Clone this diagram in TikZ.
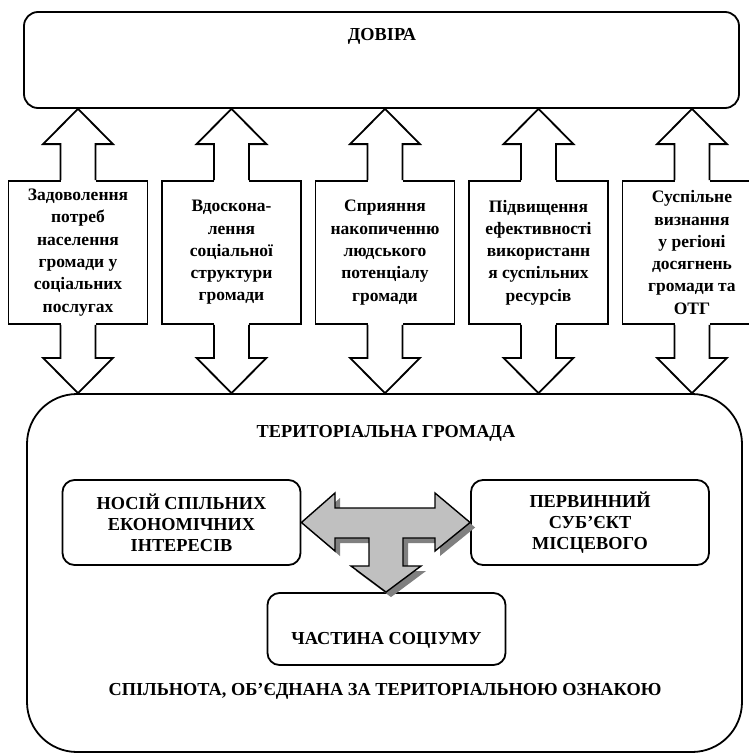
\documentclass[tikz,border=0pt]{standalone}
\usepackage{fontspec}
\setmainfont{Liberation Serif}[BoldFont={Liberation Serif Bold}]
\usetikzlibrary{calc,shadows}
\newcommand\mkvarrow[3]{%
  \node[vbx] (#1) at (#2,252.5) {#3};
  \fill[white] ($(#1.north)+(-17.5,-36)$) rectangle ($(#1.north)+(17.5,1.5)$);
  \draw[outl] ($(#1.north)+(-17.5,0)$) -- ++(0,-36) -- ++(-17.5,0) -- (#1.north |- top.south)
     -- ($(#1.north)+(35,-36)$) -- ++(-17.5,0) -- ($(#1.north)+(17.5,0)$);
  \fill[white] ($(#1.south)+(-17.5,-1.5)$) rectangle ($(#1.south)+(17.5,33)$);
  \draw[outl] ($(#1.south)+(-17.5,0)$) -- ++(0,33) -- ++(-17.5,0) -- (#1.south |- bot.north)
     -- ($(#1.south)+(35,33)$) -- ++(-17.5,0) -- ($(#1.south)+(17.5,0)$);
}
\begin{document}
\begin{tikzpicture}[x=1pt,y=-1pt,
  line width=1.8pt,
  txt/.style={font=\bfseries\fontsize{17.5}{22.3}\selectfont, align=center},
  ctxt/.style={font=\bfseries\fontsize{18.3}{21}\selectfont, align=center},
  rbox/.style={draw, rounded corners=12pt, fill=white},
  vbx/.style={draw, fill=white, minimum width=139pt, minimum height=143pt, inner sep=0pt, txt},
  ibox/.style={rbox, ctxt, minimum width=238pt, minimum height=85pt, inner sep=0pt},
  outl/.style={line join=miter},
  tarrow/.style={draw, fill=arrowgray, line width=1.4pt, line join=miter,
     drop shadow={shadow xshift=5pt, shadow yshift=-5pt, fill=shadowgray, opacity=1}}
]
\definecolor{arrowgray}{HTML}{C0C0C0}
\definecolor{shadowgray}{HTML}{808080}
\useasboundingbox (0,0) rectangle (749,753);
\clip (0,0) rectangle (749,753);

% big boxes
\node[rbox, rounded corners=14pt, minimum width=715pt, minimum height=96pt] (top) at (381.5,60) {};
\node[ctxt] (toptxt) at (382,36) {ДОВІРА};
\node[rbox, rounded corners=50pt, minimum width=715pt, minimum height=358pt] (bot) at (384.5,573) {};
\node[ctxt] (bottitle) at (386,433) {ТЕРИТОРІАЛЬНА ГРОМАДА};
\node[ctxt] (botfoot) at (385,691) {СПІЛЬНОТА, ОБ’ЄДНАНА ЗА ТЕРИТОРІАЛЬНОЮ ОЗНАКОЮ};

% vertical double arrows with text boxes
\mkvarrow{a1}{78}{Задоволення\\потреб\\населення\\громади у\\соціальних\\послугах}
\mkvarrow{a2}{231.5}{Вдоскона-\\лення\\соціальної\\структури\\громади}
\mkvarrow{a3}{385}{Сприяння\\накопиченню\\людського\\потенціалу\\громади}
\mkvarrow{a4}{538.5}{Підвищення\\ефективності\\використанн\\я суспільних\\ресурсів}
\mkvarrow{a5}{692}{Суспільне\\визнання\\у регіоні\\досягнень\\громади та\\ОТГ}

% inner boxes
\node[ibox] (l) at (181.5,522.5) {НОСІЙ СПІЛЬНИХ\\ЕКОНОМІЧНИХ\\ІНТЕРЕСІВ};
\node[ibox] (r) at (590,522.5) {ПЕРВИННИЙ\\СУБ’ЄКТ\\МІСЦЕВОГО};
\node[ibox, minimum height=72pt, text height=30pt, text depth=0pt] (b) at (386.5,629) {ЧАСТИНА СОЦІУМУ};

% T-shaped grey arrow
\path[tarrow] (l.east) -- (335,493) -- (335,508) -- (435,508) -- (435,493) -- (r.west)
  -- (435,551) -- (435,538) -- (403,538) -- (403,566) -- (421,566) -- (b.north -| 386,0)
  -- (351,566) -- (369,566) -- (369,538) -- (335,538) -- (335,551) -- cycle;
\end{tikzpicture}
\end{document}
